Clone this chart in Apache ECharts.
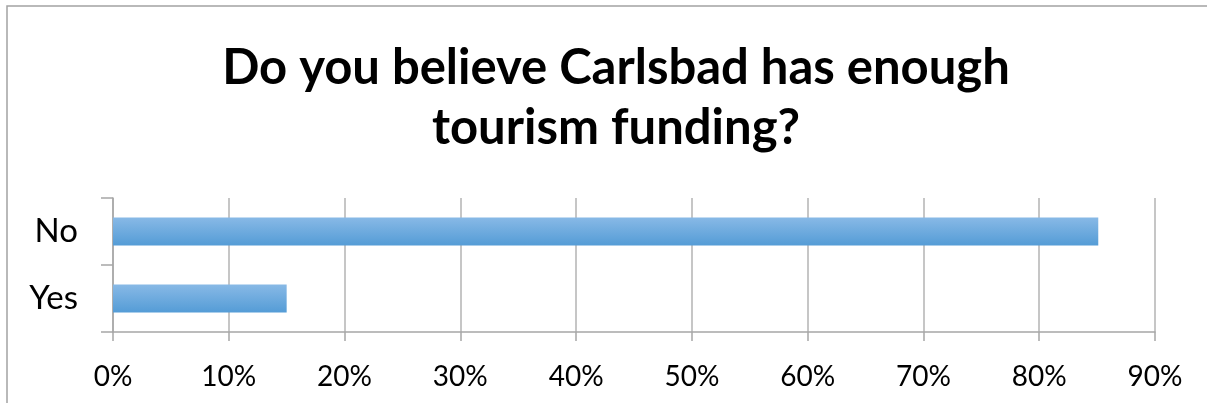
<!DOCTYPE html>
<html><head><meta charset="utf-8">
<script src="https://cdn.jsdelivr.net/npm/echarts@6/dist/echarts.min.js"></script>
<style>html,body{margin:0;padding:0;background:#fff}#c{width:1207px;height:403px}</style>
</head><body><div id="c"></div>
<script>
const titleText = 'Do you believe Carlsbad has enough\ntourism funding?';
const categories = ['Yes', 'No'];
const values = [15.0, 85.1];
const xTicks = { min: 0, max: 90, interval: 10 };

const chart = echarts.init(document.getElementById('c'), null, { renderer: 'canvas' });
chart.setOption({
  animation: false,
  backgroundColor: '#fff',
  graphic: [{
    type: 'rect', shape: { x: 7, y: 6, width: 1230, height: 430 },
    style: { fill: 'none', stroke: '#a3a3a3', lineWidth: 1.5 }, silent: true
  }],
  title: {
    text: titleText, left: 611, top: 33, textAlign: 'center',
    textStyle: { fontFamily: 'Lato', fontWeight: 'bold', fontSize: 49, lineHeight: 60, color: '#000' }
  },
  grid: { left: 113, right: 52, top: 198, bottom: 71 },
  xAxis: {
    type: 'value', min: xTicks.min, max: xTicks.max, interval: xTicks.interval,
    axisLine: { show: true, lineStyle: { color: '#a6a6a6', width: 1.5 } },
    axisTick: { show: true, length: 9, lineStyle: { color: '#a6a6a6', width: 1.5 } },
    splitLine: { show: true, lineStyle: { color: '#b3b3b3', width: 1.5 } },
    axisLabel: { formatter: '{value}%', fontFamily: 'Lato', fontSize: 28, color: '#000', margin: 31 }
  },
  yAxis: {
    type: 'category', data: categories,
    axisLine: { show: true, lineStyle: { color: '#a6a6a6', width: 1.5 } },
    axisTick: { show: true, length: 12, lineStyle: { color: '#a6a6a6', width: 1.5 } },
    axisLabel: { fontFamily: 'Lato', fontSize: 33, color: '#000', margin: 35 }
  },
  series: [{
    type: 'bar', data: values, barWidth: '42%',
    itemStyle: {
      color: new echarts.graphic.LinearGradient(0, 0, 0, 1, [
        { offset: 0, color: '#88b9e6' }, { offset: 1, color: '#549cd6' }
      ])
    }
  }]
});
</script></body></html>
